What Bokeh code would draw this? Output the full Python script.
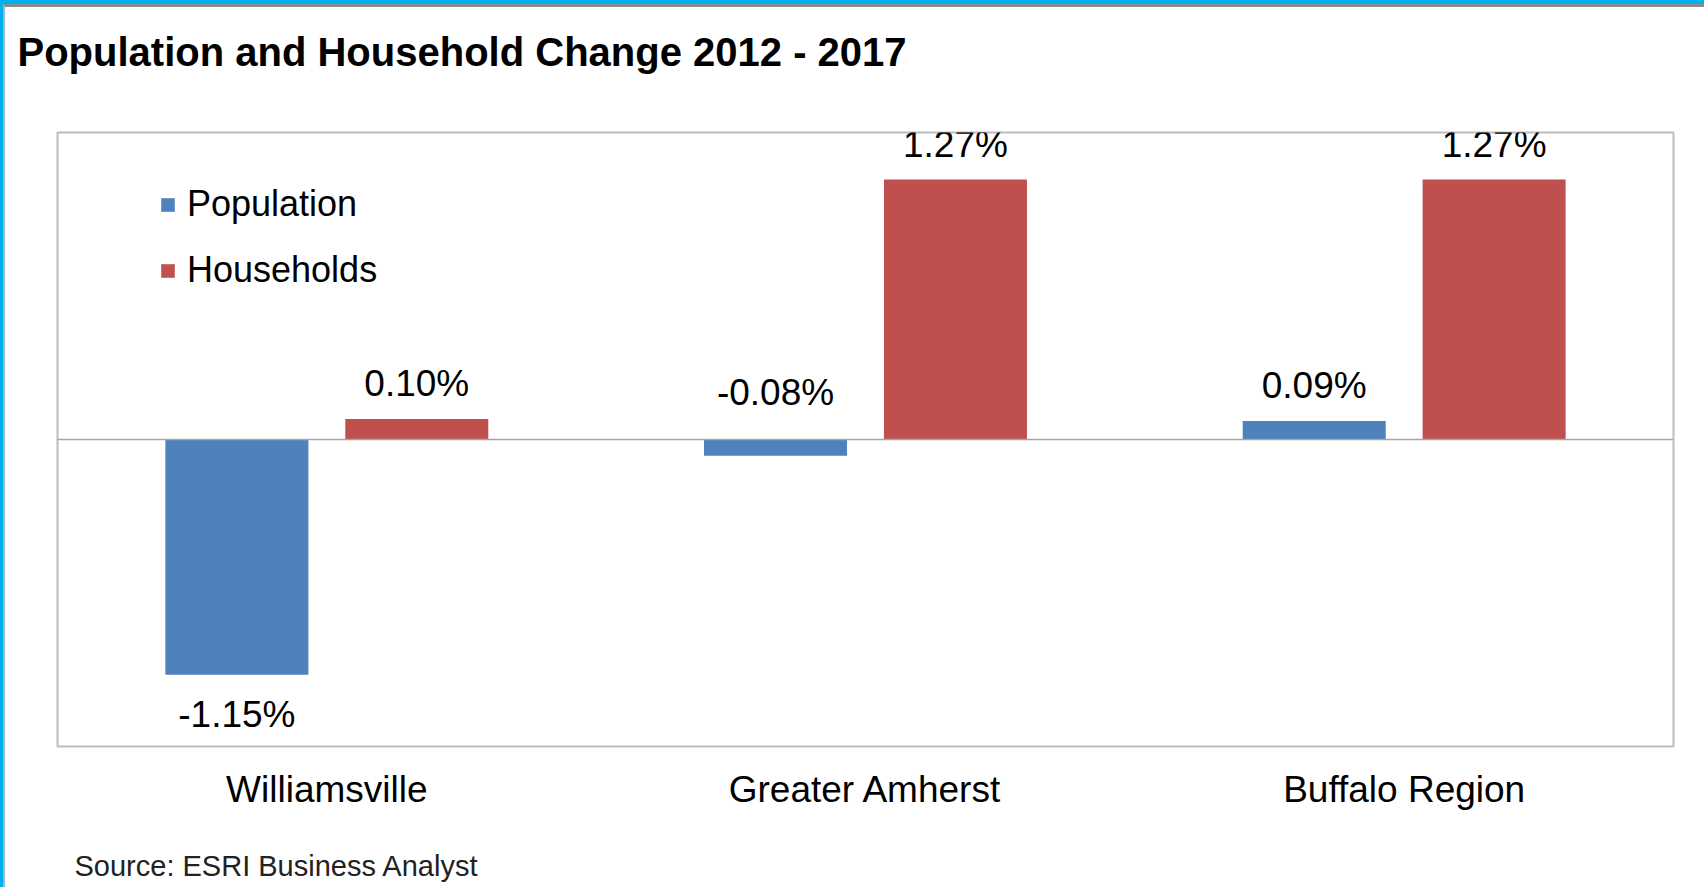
from bokeh.plotting import figure
from bokeh.models import (ColumnDataSource, FactorRange, Range1d, LabelSet, Legend,
                          LegendItem, Span, Title)
from bokeh.core.properties import value
from bokeh.transform import dodge
from bokeh.layouts import column
from bokeh.embed import file_html
from bokeh.resources import INLINE

# ---- data ----
categories = ["Williamsville", "Greater Amherst", "Buffalo Region"]
population = [-1.15, -0.08, 0.09]
households = [0.10, 1.27, 1.27]
series_names = ["Population", "Households"]
title_text = "Population and Household Change 2012 - 2017"
source_text = "Source: ESRI Business Analyst"

BLUE = "#4F81BD"
RED = "#C0504D"
FONT = "Liberation Sans"

W, H = 1701, 883
p = figure(x_range=FactorRange(*categories, range_padding=0, factor_padding=0),
           y_range=Range1d(-1.5, 1.5), width=W, height=H,
           output_backend="svg", toolbar_location=None,
           min_border_left=52, min_border_right=33, min_border_top=125,
           min_border_bottom=144)
p.background_fill_color = "white"
p.border_fill_color = "white"
p.outline_line_color = "#BDBDBD"
p.outline_line_width = 2
p.xgrid.visible = False
p.ygrid.visible = False
p.yaxis.visible = False

off = 0.167
bw = 0.2655

def label_fmt(v):
    return f"{v:.2f}%"

src_pop = ColumnDataSource(dict(cat=categories, val=population))
src_hh = ColumnDataSource(dict(cat=categories, val=households))

r_pop = p.vbar(x=dodge("cat", -off, range=p.x_range), top="val", bottom=0, width=bw,
               source=src_pop, fill_color=BLUE, line_color=None)
r_hh = p.vbar(x=dodge("cat", off, range=p.x_range), top="val", bottom=0, width=bw,
              source=src_hh, fill_color=RED, line_color=None)

p.add_layout(Span(location=0, dimension="width", line_color="#A6A6A6", line_width=1.5))

# data labels: above bar for positives, above the zero line for small negatives,
# below the bar for large negatives
for vals, o in ((population, -off), (households, off)):
    groups = {"pos": dict(cat=[], y=[], txt=[]),
              "smallneg": dict(cat=[], y=[], txt=[]),
              "neg": dict(cat=[], y=[], txt=[])}
    for c, v in zip(categories, vals):
        if v >= 0:
            g = groups["pos"]; y = v
        elif v >= -0.5:
            g = groups["smallneg"]; y = 0
        else:
            g = groups["neg"]; y = v
        g["cat"].append(c); g["y"].append(y); g["txt"].append(label_fmt(v))
    for key, base, yo in (("pos", "alphabetic", 23), ("smallneg", "alphabetic", 35),
                          ("neg", "top", -19)):
        d = groups[key]
        if not d["cat"]:
            continue
        ls = LabelSet(x=dodge("cat", o, range=p.x_range), y="y", text="txt",
                      source=ColumnDataSource(d), text_align="center",
                      text_baseline=base, y_offset=yo, text_font=value(FONT),
                      text_font_size=value("37px"), text_color="black")
        p.add_layout(ls)

# x axis
ax = p.xaxis[0]
ax.axis_line_color = None
ax.major_tick_line_color = None
ax.minor_tick_line_color = None
ax.major_label_text_font = FONT
ax.major_label_text_font_size = "37px"
ax.major_label_text_color = "black"
ax.major_label_standoff = 16

# legend
legend = Legend(items=[LegendItem(label=series_names[0], renderers=[r_pop]),
                       LegendItem(label=series_names[1], renderers=[r_hh])],
                location=(102, 455), orientation="vertical",
                glyph_width=17, glyph_height=17, label_standoff=11,
                label_height=42, spacing=24, padding=0, margin=0,
                label_text_font=FONT, label_text_font_size="36px",
                label_text_color="black", border_line_color=None,
                background_fill_alpha=0)
p.add_layout(legend, "center")

# title (with a blank spacer between it and the frame)
p.add_layout(Title(text=" ", text_font_size="1px", standoff=56), "above")
t = Title(text=title_text, text_font=FONT, text_font_size="40px",
          text_font_style="bold", text_color="black", align="left",
          offset=-40, standoff=0)
p.add_layout(t, "above")

# source note (with a blank spacer between it and the axis)
p.add_layout(Title(text=" ", text_font_size="1px", standoff=32), "below")
s = Title(text=source_text, text_font=FONT, text_font_size="29px",
          text_font_style="normal", text_color="#222222", align="left",
          offset=17, standoff=0)
p.add_layout(s, "below")

p.styles = {"border-top": "3px solid #8A8A8A", "border-left": "2px solid #9CB6C8"}
lay = column(p, styles={"border-top": "4px solid #00B0F0",
                        "border-left": "3px solid #00B0F0"})

open("out.html", "w").write(file_html(lay, INLINE))
